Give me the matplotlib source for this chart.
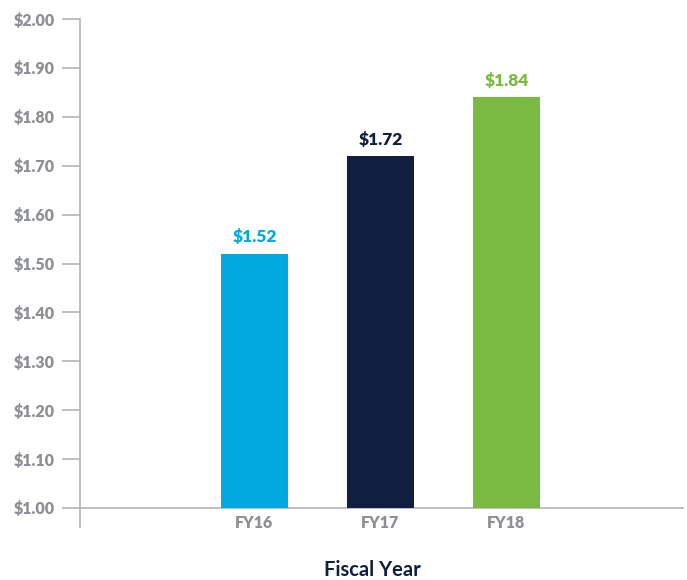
import matplotlib.pyplot as plt

# fiscal year dividends
years = ['FY16', 'FY17', 'FY18']
values = [1.52, 1.72, 1.84]
colors = ['#00a9e0', '#101f40', '#7aba42']
yticks = [1.00, 1.10, 1.20, 1.30, 1.40, 1.50, 1.60, 1.70, 1.80, 1.90, 2.00]

grey = '#8c8f93'
line_grey = '#b4b4b4'
plt.rcParams['font.family'] = ['Lato', 'DejaVu Sans']

fig = plt.figure(figsize=(6.87, 5.8), dpi=100)
ax = fig.add_axes([80 / 687, 1 - 527 / 580, 604 / 687, 508 / 580])

pos = list(range(len(years)))
ax.bar(pos, [v - 1.0 for v in values], bottom=1.0, width=0.532, color=colors, zorder=2)

for p, v, c in zip(pos, values, colors):
    ax.annotate('${:.2f}'.format(v), (p, v), xytext=(0, 6), textcoords='offset points',
                ha='center', va='bottom', color=c, fontsize=12.5, fontweight='heavy')
    ax.annotate(years[p], (p, 1.0), xytext=(0, -5), textcoords='offset points',
                ha='center', va='top', color=grey, fontsize=11.5, fontweight='heavy')

ax.axhline(1.0, color=line_grey, lw=1.2, zorder=1)

ax.set_xlim(-1.385, 3.409)
ax.set_ylim(1 - 19 / 489, 2.0)
ax.set_yticks(yticks)
ax.set_yticklabels(['${:.2f}'.format(t) for t in yticks])
ax.tick_params(axis='y', length=13, width=1.2, color=line_grey, pad=5,
               labelcolor=grey, labelsize=11.5)
for lbl in ax.get_yticklabels():
    lbl.set_fontweight('heavy')
ax.set_xticks([])

for s in ['top', 'right', 'bottom']:
    ax.spines[s].set_visible(False)
ax.spines['left'].set_color(line_grey)
ax.spines['left'].set_linewidth(1.2)

fig.text(372 / 687, 1 - 570 / 580, 'Fiscal Year', ha='center', va='center',
         color='#101f40', fontsize=14.5, fontweight='bold')

fig.savefig('out.png', dpi=100)
